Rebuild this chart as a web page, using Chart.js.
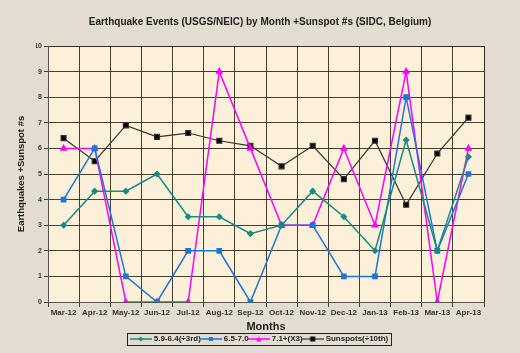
<!DOCTYPE html>
<html>
<head>
<meta charset="utf-8">
<script src="https://cdn.jsdelivr.net/npm/chart.js@4/dist/chart.umd.min.js"></script>
<style>
  html, body { margin: 0; padding: 0; background: #e3ddd1; }
  #wrap { width: 520px; height: 353px; position: relative; }
</style>
</head>
<body>
<div id="wrap"><canvas id="myChart" width="520" height="353"></canvas></div>
<script>
const FONT = "'Liberation Sans', Arial, sans-serif"

const months = ['Mar-12', 'Apr-12', 'May-12', 'Jun-12', 'Jul-12', 'Aug-12', 'Sep-12',
                'Oct-12', 'Nov-12', 'Dec-12', 'Jan-13', 'Feb-13', 'Mar-13', 'Apr-13']

// 5.9-6.4 (divided by 3)
const mag59 = [3, 4.33, 4.33, 5, 3.33, 3.33, 2.67, 3, 4.33, 3.33, 2, 6.33, 2, 5.67]
// 6.5-7.0
const mag65 = [4, 6, 1, 0, 2, 2, 0, 3, 3, 1, 1, 8, 2, 5]
// 7.1+ (times 3)
const mag71 = [6, 6, 0, 0, 0, 9, 6, 3, 3, 6, 3, 9, 0, 6]
// Sunspots (divided by 10)
const sunspots = [6.4, 5.5, 6.9, 6.45, 6.6, 6.3, 6.1, 5.3, 6.1, 4.8, 6.3, 3.8, 5.8, 7.2]

const yTicks = [0, 1, 2, 3, 4, 5, 6, 7, 8, 9, 10]

// small line+marker images for the legend
function legendIcon(color, lineColor, style, size) {
    const c = document.createElement('canvas')
    c.width = 22
    c.height = 8
    const g = c.getContext('2d')
    g.strokeStyle = lineColor
    g.lineWidth = 1.5
    g.beginPath()
    g.moveTo(0, 4)
    g.lineTo(22, 4)
    g.stroke()
    g.fillStyle = color
    if (style === 'rect') {
        g.fillRect(11 - size / 2, 4 - size / 2, size, size)
    } else if (style === 'triangle') {
        g.beginPath()
        g.moveTo(11, 4 - size / 2)
        g.lineTo(11 + size / 2, 4 + size / 2)
        g.lineTo(11 - size / 2, 4 + size / 2)
        g.closePath()
        g.fill()
    } else {
        g.beginPath()
        g.moveTo(11, 4 - size / 2)
        g.lineTo(11 + size / 2, 4)
        g.lineTo(11, 4 + size / 2)
        g.lineTo(11 - size / 2, 4)
        g.closePath()
        g.fill()
    }
    return c
}

const plotBackground = {
    id: 'plotBackground',
    beforeDraw(chart) {
        const { ctx, chartArea: a } = chart
        ctx.save()
        ctx.fillStyle = '#fdf0d8'
        ctx.fillRect(a.left, a.top, a.width, a.height)
        ctx.strokeStyle = '#8c8478'
        ctx.lineWidth = 1
        ctx.strokeRect(a.left + 0.5, a.top + 0.5, a.width, a.height)
        ctx.restore()
    }
}

const legendBorder = {
    id: 'legendBorder',
    afterDraw(chart) {
        const boxes = chart.legend.legendHitBoxes
        if (!boxes || !boxes.length) return
        const left = Math.min(...boxes.map(b => b.left)) - 5
        const right = Math.max(...boxes.map(b => b.left + b.width)) + 2
        const top = Math.min(...boxes.map(b => b.top)) - 2
        const bottom = Math.max(...boxes.map(b => b.top + b.height)) + 2
        const ctx = chart.ctx
        ctx.save()
        ctx.strokeStyle = '#222'
        ctx.lineWidth = 1
        ctx.strokeRect(Math.round(left) + 0.5, Math.round(top) + 0.5, Math.round(right - left), Math.round(bottom - top))
        ctx.restore()
    }
}

const ctx = document.getElementById('myChart').getContext('2d')
const myChart = new Chart(ctx, {
    type: 'line',
    data: {
        labels: months,
        datasets: [{
            label: '5.9-6.4(÷3rd)',
            data: mag59,
            borderColor: '#178a82',
            backgroundColor: '#178a82',
            borderWidth: 1.5,
            pointStyle: 'rectRot',
            pointRadius: 2.5,
            legendIcon: legendIcon('#178a82', '#178a82', 'rectRot', 5)
        }, {
            label: '6.5-7.0',
            data: mag65,
            borderColor: '#1f74d6',
            backgroundColor: '#1f74d6',
            borderWidth: 1.5,
            pointStyle: 'rect',
            pointRadius: 3,
            legendIcon: legendIcon('#1f74d6', '#1f74d6', 'rect', 4)
        }, {
            label: '7.1+(X3)',
            data: mag71,
            borderColor: '#ff00ff',
            backgroundColor: '#ff00ff',
            borderWidth: 1.5,
            pointStyle: 'triangle',
            pointRadius: 3,
            legendIcon: legendIcon('#ff00ff', '#ff00ff', 'triangle', 5)
        }, {
            label: 'Sunspots(÷10th)',
            data: sunspots,
            borderColor: '#333333',
            backgroundColor: '#000000',
            borderWidth: 1.2,
            pointStyle: 'rect',
            pointRadius: 3.5,
            legendIcon: legendIcon('#000', '#555', 'rect', 5)
        }]
    },
    options: {
        responsive: false,
        animation: false,
        layout: {
            padding: { left: 36, right: 36, top: 4, bottom: 0 }
        },
        elements: {
            line: { tension: 0 },
            point: { borderWidth: 0, hoverRadius: 4 }
        },
        scales: {
            x: {
                offset: true,
                afterFit: scale => { scale.height = 32 },
                grid: {
                    offset: true,
                    color: 'rgba(40,32,24,0.85)',
                    lineWidth: 1,
                    tickLength: 5,
                    drawOnChartArea: true
                },
                border: { color: '#555', width: 1 },
                ticks: {
                    color: '#333',
                    font: { family: FONT, size: 8, weight: 'bold' },
                    maxRotation: 0,
                    autoSkip: false,
                    padding: 1
                },
                title: {
                    display: true,
                    text: 'Months',
                    color: '#222',
                    font: { family: FONT, size: 11, weight: 'bold' },
                    padding: { top: 0, bottom: 0 }
                }
            },
            y: {
                min: 0,
                max: 10,
                afterBuildTicks: scale => {
                    scale.ticks = yTicks.map(v => ({ value: v }))
                },
                afterFit: scale => { scale.width = 12 },
                grid: {
                    color: 'rgba(40,32,24,0.85)',
                    lineWidth: 1,
                    tickLength: 4
                },
                border: { color: '#555', width: 1 },
                ticks: {
                    color: '#333',
                    font: { family: FONT, size: 7, weight: 'bold' },
                    padding: 2
                },
                title: {
                    display: true,
                    text: 'Earthquakes +Sunspot #s',
                    color: '#222',
                    font: { family: FONT, size: 9.5, weight: 'bold' },
                    padding: { top: -20, bottom: 0 }
                }
            }
        },
        plugins: {
            title: {
                display: true,
                text: 'Earthquake Events (USGS/NEIC) by Month +Sunspot #s (SIDC, Belgium)',
                color: '#222',
                font: { family: FONT, size: 10, weight: 'bold' },
                padding: { top: 12, bottom: 18 }
            },
            legend: {
                display: true,
                position: 'bottom',
                labels: {
                    color: '#222',
                    font: { family: FONT, size: 8, weight: 'bold' },
                    usePointStyle: true,
                    pointStyleWidth: 18,
                    boxHeight: 8,
                    padding: 1,
                    generateLabels: chart => chart.data.datasets.map((ds, i) => ({
                        text: ds.label,
                        pointStyle: ds.legendIcon,
                        fontColor: '#222',
                        lineWidth: 0,
                        strokeStyle: 'transparent',
                        fillStyle: 'transparent',
                        hidden: !chart.isDatasetVisible(i),
                        datasetIndex: i
                    }))
                }
            },
            tooltip: { enabled: false }
        }
    },
    plugins: [plotBackground, legendBorder]
})
</script>
</body>
</html>
